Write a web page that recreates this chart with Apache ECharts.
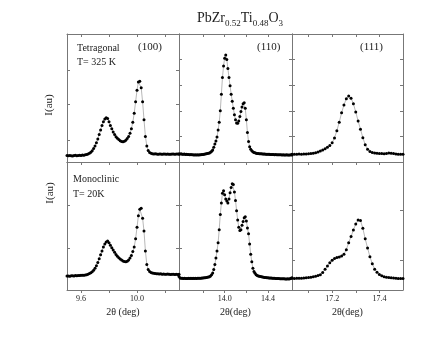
<!DOCTYPE html>
<html>
<head>
<meta charset="utf-8">
<script src="https://cdn.jsdelivr.net/npm/echarts@6/dist/echarts.min.js"></script>
<style>
html, body { margin: 0; padding: 0; background: #fff; }
#chart { width: 448px; height: 342px; }
</style>
</head>
<body>
<div id="chart"></div>
<script>
// 2theta scans, one point every 0.01 deg, intensity in arbitrary units (0-100 = panel height)
var step = 0.01;
var start100 = 9.50, start110 = 13.58, start111 = 17.03;
var range100 = [9.50, 10.30], range110 = [13.58, 14.62], range111 = [17.03, 17.50];

// Tetragonal, T = 325 K
var tetra100 = [5.0,4.8,5.1,4.9,4.7,5.0,5.2,4.9,5.0,5.3,5.1,5.4,5.3,5.6,5.9,6.3,
	6.8,7.6,8.8,10.5,12.5,15,18,21.5,25,28.5,31.5,33.5,34.6,34,
	31.5,28.5,26,23.5,21.5,19.8,18.5,17.5,16.6,16.1,
	15.9,16.2,17,18.3,20,22.5,26,31,38,47,
	56,62.5,63,58,47,33,20,12.5,9,7.5,6.8,
	6.5,6.3,6.4,6.2,6.1,6.3,6.2,6.0,6.2,6.3,6.1,6.2,6.0,6.1,6.3,6.2,6.1,6.2,6.3,6.2];
var tetra110 = [6.3,6.2,6.4,6.1,6.0,6.2,5.9,6.0,5.8,5.9,5.7,5.8,5.6,5.7,5.5,5.6,5.5,5.6,5.5,5.7,5.6,5.8,5.9,6.0,6.2,6.5,6.7,
	6.9,7.1,7.6,8.4,9.4,11.5,14,16.5,19.5,25,
	31,40,53,66,75,81,83.6,80,73,66,
	59.5,53,47.5,42,37,33,30.5,30.3,32,35.5,
	39.5,43,45.5,46.3,42,33,23,16,12,10,
	8.8,8,7.5,7.2,6.9,6.7,
	6.6,6.5,6.5,6.4,6.3,6.3,6.2,6.1,6.1,6.0,6.0,5.9,5.9,5.8,5.8,5.7,5.8,5.7,5.6,5.7,5.6,5.6,5.5,5.6,5.5,5.5,5.6,5.5,5.4,5.5,5.6,5.5];
var tetra111 = [6.0,6.1,6.0,6.2,6.1,6.2,6.3,6.4,6.6,6.9,
	7.3,7.9,8.6,9.3,10.3,11.5,12.8,15,18.8,24.5,
	31,38.5,44.5,49.5,51.6,49.8,45.5,39,32,25.5,
	19,13.5,10,8.2,7.4,7.0,6.8,6.6,6.6,6.5,
	6.7,7.0,6.9,6.6,6.3,6.1,6.0,6.0];

// Monoclinic, T = 20 K
var mono100 = [10.9,11.0,10.8,11.1,11.2,11.0,11.3,11.2,11.4,11.3,11.5,11.6,11.5,11.8,12.0,12.4,
	12.9,13.5,14.2,15.5,17,19,21.5,24.5,27.5,30.5,33.5,36,37.5,38.3,
	37,35,33,31.3,29.5,27.8,26.4,25.2,24.2,23.4,
	22.7,22.2,22.1,22.5,23.5,25,27,30,33.5,40,
	49,58,63,63.8,56,46,30.5,20,16,14.5,13.6,
	13.2,13.0,12.8,12.7,12.6,12.5,12.6,12.4,12.5,12.3,12.4,12.5,12.3,12.2,12.4,12.3,12.2,12.3,12.2,12.3];
var mono110 = [10.5,9.4,9.2,9.1,9.0,9.1,9.0,8.9,9.0,9.1,9.0,9.1,9.0,9.1,9.0,9.1,9.0,9.1,9.2,9.1,9.2,9.3,
	9.4,9.5,9.6,9.7,9.9,10.1,10.4,11,12,13.2,
	16,20,25,30.5,37,47,59,68,75.5,77.6,
	74.5,71,69.5,68,71,76,80,83,82.5,76.5,
	70,62,54.7,49,46.5,47,50.5,53.5,56.5,57.3,
	54,48.5,44,36,28,22,17,14.5,13,12,11.4,11,
	10.7,10.5,10.3,10.1,10.0,9.8,9.7,9.6,9.5,9.4,9.3,9.3,9.2,9.1,9.1,9.0,9.0,8.9,8.9,8.8,8.8,8.7,8.7,8.7,8.6,8.6,8.7,8.6,8.8,9.2,9.6];
var mono111 = [9.1,9.0,9.1,9.2,9.1,9.3,9.5,9.7,10.0,10.4,
	10.8,11.3,11.9,13.6,16.2,18.8,21.2,23.2,24.6,25.3,
	25.8,26.6,28,31.5,37,41.7,46.9,51.5,54.7,54.2,
	48.2,40,32.8,26,20.5,16.3,13.8,12.2,11.2,10.4,
	10.0,9.7,9.5,9.3,9.2,9.0,8.9,8.9];

// ticks and labels
var ticks100 = [9.6, 9.8, 10.0, 10.2], labels100 = [9.6, 10.0];
var ticks110 = [13.8, 14.0, 14.2, 14.4], labels110 = [14.0, 14.4];
var ticks111 = [17.1, 17.2, 17.3, 17.4], labels111 = [17.2, 17.4];
var yTicksTop = [[17, 45, 72], [20, 40, 60, 80], [20, 40, 60, 80]];
var yTicksBottom = [[33, 66], [33, 66], [23, 62]];
var reflections = ['(100)', '(110)', '(111)'];
var phases = [['Tetragonal', 'T= 325 K'], ['Monoclinic', 'T= 20K']];
var xNames = ['2θ (deg)', '2θ(deg)', '2θ(deg)'];

var FONT = '"Liberation Serif", "Times New Roman", serif';
var FRAME = '#777';
var TEXT = '#222';

function toPairs(start, vals) {
	return vals.map(function(v, i) {
		return [+(start + i * step).toFixed(2), v];
	});
}

var panels = [
	{ data: tetra100, start: start100, range: range100, ticks: ticks100, labels: labels100 },
	{ data: tetra110, start: start110, range: range110, ticks: ticks110, labels: labels110 },
	{ data: tetra111, start: start111, range: range111, ticks: ticks111, labels: labels111 },
	{ data: mono100, start: start100, range: range100, ticks: ticks100, labels: labels100 },
	{ data: mono110, start: start110, range: range110, ticks: ticks110, labels: labels110 },
	{ data: mono111, start: start111, range: range111, ticks: ticks111, labels: labels111 }
];

var colLeft = [67, 179, 292], colWidth = [112, 113, 111];
var rowTop = [34, 162], rowHeight = 128;

var grids = [], xAxes = [], yAxes = [], series = [];

panels.forEach(function(p, k) {
	var r = Math.floor(k / 3), c = k % 3;
	grids.push({ left: colLeft[c], top: rowTop[r], width: colWidth[c], height: rowHeight });
	var line = { show: true, onZero: false, lineStyle: { color: FRAME, width: 1 } };
	var yt = (r === 0 ? yTicksTop : yTicksBottom)[c];

	xAxes.push({
		type: 'value', gridIndex: k, position: 'bottom',
		min: p.range[0], max: p.range[1],
		axisLine: line,
		axisTick: { show: true, inside: false, length: 3, lineStyle: { color: FRAME }, customValues: p.ticks },
		axisLabel: {
			show: r === 1, customValues: p.labels, fontSize: 8, margin: 5,
			fontFamily: FONT, color: TEXT,
			formatter: function(v) { return v.toFixed(1); }
		},
		splitLine: { show: false },
		name: r === 1 ? xNames[c] : '',
		nameLocation: 'middle', nameGap: 17,
		nameTextStyle: { fontFamily: FONT, fontSize: 10, color: TEXT }
	});
	xAxes.push({
		type: 'value', gridIndex: k, position: 'top',
		min: p.range[0], max: p.range[1],
		axisLine: line,
		axisTick: { show: true, inside: true, length: 3, lineStyle: { color: FRAME }, customValues: p.ticks },
		axisLabel: { show: false },
		splitLine: { show: false }
	});
	['left', 'right'].forEach(function(pos) {
		yAxes.push({
			type: 'value', gridIndex: k, position: pos, min: 0, max: 100,
			axisLine: line,
			axisTick: { show: true, inside: true, length: 3, lineStyle: { color: FRAME }, customValues: yt },
			axisLabel: { show: false },
			splitLine: { show: false }
		});
	});

	series.push({
		type: 'line',
		xAxisIndex: 2 * k, yAxisIndex: 2 * k,
		data: toPairs(p.start, p.data),
		symbol: 'circle', symbolSize: 3, showSymbol: true, showAllSymbol: true,
		itemStyle: { color: '#000' },
		lineStyle: { color: '#999', width: 0.7 },
		clip: true, silent: true
	});
});

var graphics = [];
function addText(text, x, y, size, opts) {
	opts = opts || {};
	graphics.push({
		type: 'text', x: x, y: y, rotation: opts.rotation || 0,
		style: {
			text: text, fontFamily: FONT, fontSize: size, fill: TEXT,
			textAlign: opts.align || 'left', textVerticalAlign: 'middle'
		}
	});
}
addText(reflections[0], 138, 47, 11);
addText(reflections[1], 257, 47, 11);
addText(reflections[2], 360, 47, 11);
addText(phases[0][0], 77, 48, 10);
addText(phases[0][1], 77, 62, 10);
addText(phases[1][0], 73, 179, 10);
addText(phases[1][1], 73, 194, 10);
addText('I(au)', 49, 105, 11, { rotation: Math.PI / 2, align: 'center' });
addText('I(au)', 50, 193, 11, { rotation: Math.PI / 2, align: 'center' });

var chart = echarts.init(document.getElementById('chart'), null, { renderer: 'canvas' });
chart.setOption({
	animation: false,
	backgroundColor: '#fff',
	title: {
		text: '{n|PbZr}{s|0.52}{n|Ti}{s|0.48}{n|O}{s|3}',
		left: 197, top: 11, padding: 0,
		textStyle: {
			fontFamily: FONT, fontWeight: 'normal', color: TEXT,
			rich: {
				n: { fontFamily: FONT, fontSize: 14, lineHeight: 16, verticalAlign: 'top', color: TEXT },
				s: { fontFamily: FONT, fontSize: 9, lineHeight: 9, padding: [8, 0, 0, 0], verticalAlign: 'top', color: TEXT }
			}
		}
	},
	grid: grids,
	xAxis: xAxes,
	yAxis: yAxes,
	series: series,
	graphic: graphics
});
</script>
</body>
</html>
